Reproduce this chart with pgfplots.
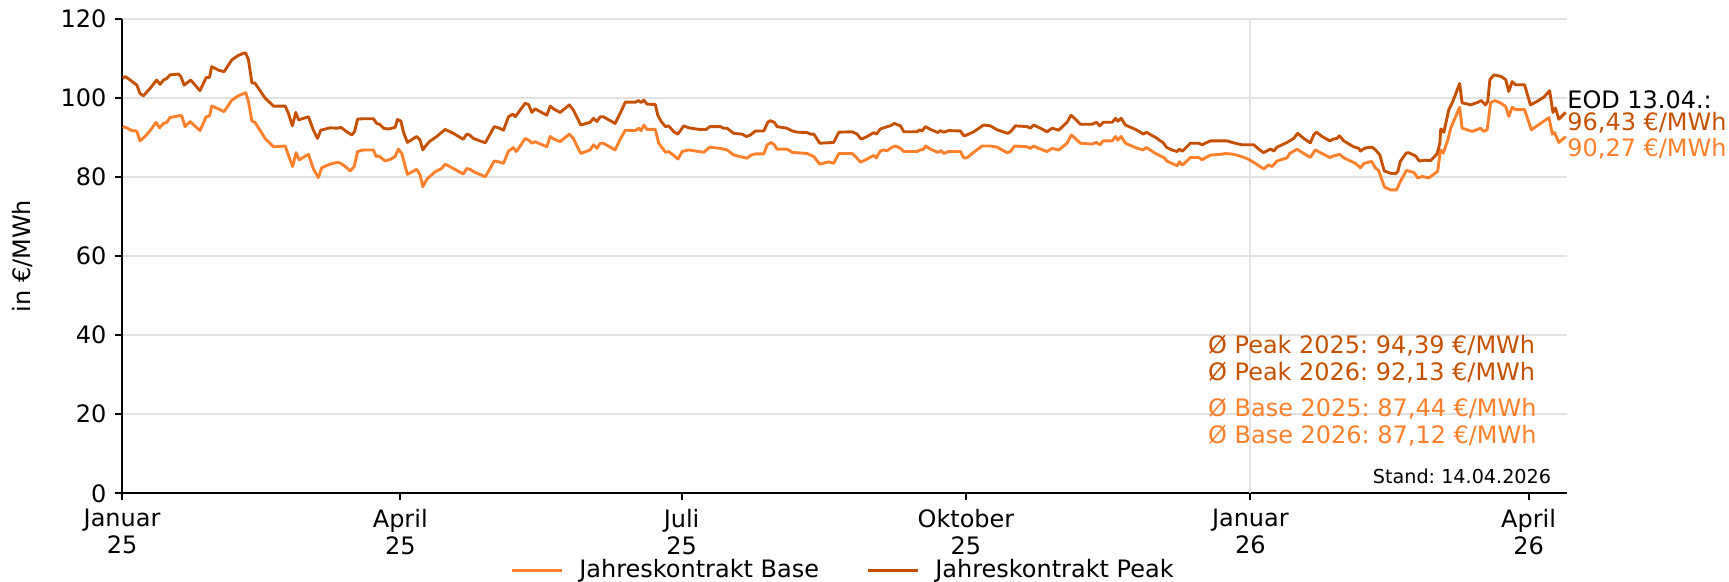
\documentclass[border=0pt]{standalone}
\usepackage{fontspec}
\setmainfont{DejaVu Sans}
\usepackage{pgfplots}
\pgfplotsset{compat=1.18}
\frenchspacing

\definecolor{base}{RGB}{255,127,42}
\definecolor{peak}{RGB}{199,80,0}
\definecolor{gridgray}{RGB}{226,226,226}

\begin{document}
\begin{tikzpicture}
% fixed page size: 1729x582 px at 0.417 pt/px
\path[use as bounding box] (-50.9pt,-37pt) rectangle (670.1pt,205.7pt);
\begin{axis}[
    at={(0,0)}, anchor=south west,
    scale only axis,
    width=602.5pt, height=197.7pt,
    xmin=0, xmax=467.4, ymin=0, ymax=120,
    clip=false,
    axis lines=left,
    axis line style={-, line width=0.9pt},
    tick align=outside,
    major tick length=3pt,
    tick style={line width=0.8pt, black},
    xtick={0,90,181,273,365,455},
    xticklabels={{Januar\\25},{April\\25},{Juli\\25},{Oktober\\25},{Januar\\26},{April\\26}},
    xticklabel style={align=center},
    ytick={0,20,...,120},
    ymajorgrids=true,
    grid style={gridgray, line width=0.8pt},
    extra x ticks={365},
    extra x tick labels={},
    extra x tick style={grid=major, major tick length=0pt},
    tick label style={font=\fontsize{10}{11.5}\selectfont},
    /pgf/number format/assume math mode=true,
    ylabel={in €/MWh},
    ylabel style={at={(axis description cs:-0.0692,0.5)}, anchor=center},
    legend columns=2,
    legend style={draw=none, fill=none, at={(0.5,-0.162)}, anchor=center,
        font=\fontsize{10}{12}\selectfont,
        /tikz/every odd column/.append style={column sep=4.5pt},
        /tikz/every even column/.append style={column sep=17.8pt}},
    legend image code/.code={\draw[#1] (0pt,0pt) -- (21pt,0pt);},
]

% Jahreskontrakt Base (x = Tage ab 01.01.2025)
\addplot[base, line width=1.2pt, line join=round] coordinates {
(0.2,92.8) (1.5,92.5) (3.1,91.8) (4.75,91.7) (5.8,89.2) (7.4,90.3) (9.1,91.8) (11.0,93.9)
(12.1,92.5) (13.4,93.6) (14.5,93.9) (15.5,95.1) (18.8,95.6) (19.3,95.5) (20.4,92.8) (22.0,94.1)
(25.2,91.8) (27.2,95.3) (28.3,95.5) (29.0,98.0) (31.2,97.3) (33.0,96.6) (35.5,99.5) (37.6,100.6)
(40.0,101.4) (40.9,99.1) (42.0,94.2) (43.0,93.9) (46.3,89.8) (49.0,87.7) (52.8,87.9) (53.8,85.6)
(55.2,82.7) (56.3,86.2) (57.3,84.4) (60.3,85.8) (61.9,82.1) (63.5,79.9) (64.6,82.4) (67.3,83.3)
(69.7,83.8) (70.8,83.5) (72.7,82.4) (73.8,81.6) (75.1,82.7) (76.2,86.5) (78.1,86.9) (81.3,86.9)
(82.2,85.2) (83.0,85.4) (84.0,84.8) (85.1,84.1) (86.7,84.5) (88.3,85.2) (89.4,87.1) (90.5,86.0)
(92.3,80.7) (95.3,82.0) (96.4,80.6) (97.3,77.6) (98.6,79.5) (101.3,81.4) (103.4,82.2) (104.5,83.3)
(107.2,82.2) (110.4,80.8) (111.5,82.2) (112.6,82.0) (113.7,81.4) (117.5,80.1) (120.4,84.1) (121.8,83.9)
(123.4,83.5) (125.0,86.6) (126.6,87.5) (127.5,86.5) (128.8,87.9) (130.4,89.8) (131.5,89.4) (132.6,88.6)
(133.6,89.0) (137.4,87.7) (138.5,90.3) (139.6,89.7) (141.7,89.0) (144.7,90.9) (146.0,89.8) (148.4,86.0)
(151.4,86.9) (152.5,88.2) (153.6,87.3) (154.7,88.6) (155.7,88.6) (159.5,86.9) (161.0,89.4) (162.8,91.9)
(166.1,91.8) (167.1,92.4) (167.9,91.8) (168.8,93.2) (169.8,92.1) (172.5,92.1) (173.6,88.6) (175.8,86.3)
(176.8,86.5) (178.5,85.5) (179.8,84.6) (181.2,86.5) (183.3,86.9) (186.6,86.5) (188.2,86.3) (190.1,87.6)
(193.6,87.3) (195.7,86.9) (197.9,85.6) (202.2,84.8) (203.5,85.6) (204.9,85.9) (207.6,85.9) (208.7,88.2)
(210.0,88.8) (211.0,88.2) (211.9,87.1) (215.1,87.1) (216.8,86.3) (221.6,86.0) (223.8,85.2) (225.7,83.3)
(228.6,83.9) (230.2,83.5) (231.9,86.0) (236.2,86.0) (237.3,85.2) (238.9,83.8) (241.0,84.6) (243.2,85.5)
(244.0,84.9) (245.3,86.6) (246.4,86.9) (247.5,86.7) (249.1,87.6) (250.2,87.9) (251.8,87.3) (252.9,86.5)
(257.2,86.5) (258.2,86.9) (259.3,87.1) (259.9,87.9) (261.5,87.1) (263.9,86.3) (265.0,86.7) (265.8,86.0)
(267.4,86.5) (271.2,86.5) (272.3,84.9) (273.3,84.9) (275.5,86.3) (278.2,87.9) (280.9,87.9) (283.1,87.6)
(286.3,86.2) (287.4,86.5) (288.7,87.9) (292.8,87.7) (293.8,87.3) (294.9,87.9) (296.5,87.3) (299.2,86.5)
(300.9,87.3) (303.0,86.9) (305.7,88.6) (307.1,90.7) (308.4,89.8) (310.0,88.6) (313.8,88.4) (315.2,88.8)
(316.3,88.2) (317.4,89.2) (320.3,89.2) (321.4,90.3) (322.1,89.4) (323.2,90.3) (324.6,88.6) (327.8,87.5)
(329.4,87.1) (330.3,86.9) (331.3,87.5) (332.6,86.9) (334.3,86.0) (335.9,85.4) (337.0,85.0) (338.0,84.1)
(339.6,83.5) (341.3,82.9) (342.1,83.9) (342.9,83.1) (343.4,83.3) (345.6,85.0) (348.3,85.0) (349.4,84.4)
(350.4,84.9) (352.1,85.6) (355.3,85.8) (356.9,86.0) (359.6,85.8) (362.3,85.2) (364.5,84.5) (366.6,83.5)
(369.3,82.1) (370.9,83.1) (372.0,82.7) (373.6,84.1) (376.9,84.9) (377.7,86.0) (380.1,87.1) (382.3,86.0)
(384.4,85.0) (386.0,86.9) (388.2,86.0) (390.7,85.0) (392.0,85.4) (393.9,85.8) (395.2,84.9) (397.4,84.1)
(399.0,83.5) (400.6,82.4) (401.8,83.5) (404.2,84.0) (405.5,82.3) (406.5,81.7) (408.4,77.5) (410.3,76.8)
(412.3,76.8) (413.5,78.9) (415.5,81.7) (417.9,81.2) (419.2,79.8) (420.6,80.2) (422.7,79.8) (425.6,81.5)
(426.5,86.9) (427.4,86.1) (428.9,89.5) (429.8,92.4) (432.7,97.7) (433.5,92.4) (435.1,92.0) (436.8,91.6)
(439.5,92.4) (440.5,91.6) (441.6,92.0) (442.7,98.8) (444.0,99.4) (445.9,98.8) (447.6,97.9) (448.6,95.4)
(449.7,97.7) (450.8,97.1) (453.7,97.1) (455.9,92.0) (458.3,93.3) (461.6,95.1) (462.7,90.9) (463.4,91.3)
(464.8,88.8) (467.0,90.27)
};
\addlegendentry{Jahreskontrakt Base}

% Jahreskontrakt Peak
\addplot[peak, line width=1.2pt, line join=round] coordinates {
(0.2,105.0) (1.0,105.5) (2.6,104.6) (4.8,103.3) (5.8,101.2) (6.9,100.6) (9.1,102.5) (11.2,104.6)
(12.3,103.5) (13.4,104.6) (14.5,105.0) (15.5,105.9) (18.2,106.1) (19.0,105.5) (20.1,103.3) (22.2,104.6)
(25.2,101.9) (27.2,105.2) (28.3,105.3) (29.0,108.0) (31.2,107.1) (33.0,106.7) (35.5,109.7) (37.6,110.8)
(39.3,111.4) (40.0,111.4) (40.9,109.7) (42.0,103.9) (43.0,103.8) (46.3,100.0) (49.0,98.0) (52.8,98.0)
(53.8,96.2) (55.1,93.0) (56.2,96.4) (57.1,94.5) (60.3,95.3) (61.9,91.9) (63.2,89.8) (64.3,91.9)
(67.3,92.5) (69.7,92.4) (70.8,92.6) (72.7,91.5) (74.3,90.7) (75.2,91.5) (76.2,94.7) (78.0,94.8)
(81.3,94.8) (82.4,93.6) (83.3,93.4) (84.6,92.4) (86.2,92.2) (88.3,92.6) (89.1,94.6) (90.2,94.2)
(91.0,91.5) (92.3,88.8) (94.3,89.8) (95.3,90.3) (96.4,89.4) (97.3,86.9) (98.0,87.7) (99.4,89.0)
(101.8,90.3) (104.5,92.1) (107.2,91.1) (110.4,89.6) (111.5,90.9) (112.4,90.7) (113.7,89.8) (117.5,88.7)
(120.4,92.8) (121.8,92.5) (123.4,91.9) (125.0,95.3) (126.4,96.0) (127.2,95.3) (128.8,97.0) (130.4,98.7)
(131.5,98.4) (132.6,96.4) (133.6,97.3) (137.4,95.7) (138.5,98.0) (139.6,97.3) (141.7,96.4) (144.7,98.3)
(146.0,97.0) (148.4,93.2) (151.4,93.9) (152.5,94.9) (153.6,94.1) (154.7,95.3) (155.7,95.3) (159.5,93.6)
(161.1,96.1) (162.8,99.0) (166.1,99.0) (167.1,99.4) (167.9,98.9) (168.8,99.5) (169.8,98.5) (172.5,98.4)
(173.3,95.7) (174.4,94.1) (175.8,92.8) (176.8,93.0) (178.5,91.5) (179.8,90.9) (181.7,93.0) (183.3,92.5)
(186.6,92.1) (189.0,92.1) (190.1,92.8) (193.6,92.8) (194.6,92.4) (195.7,92.4) (197.9,91.1) (200.6,90.9)
(202.0,90.3) (203.3,90.7) (204.9,91.7) (207.6,91.7) (208.9,93.9) (209.7,94.3) (211.0,93.9) (211.9,92.8)
(215.1,92.4) (216.8,91.7) (218.4,91.4) (221.6,91.3) (222.7,90.9) (223.8,90.9) (225.7,88.6) (230.2,88.8)
(231.9,91.4) (236.2,91.5) (237.8,90.9) (238.9,89.8) (239.4,89.7) (241.0,90.3) (243.2,91.3) (244.0,90.9)
(245.3,92.2) (246.4,92.5) (247.5,92.8) (248.5,93.0) (249.8,93.6) (251.8,93.0) (252.9,91.5) (257.2,91.5)
(258.0,92.0) (258.8,91.7) (259.9,92.8) (261.5,92.1) (263.9,91.3) (264.7,91.8) (265.8,91.4) (267.4,91.8)
(271.2,91.7) (272.3,90.5) (273.3,90.7) (275.5,91.5) (278.7,93.2) (280.9,93.0) (283.1,92.0) (286.5,91.1)
(287.4,91.5) (289.0,93.0) (292.8,92.8) (293.8,92.4) (294.9,93.2) (297.1,92.4) (299.2,91.5) (300.9,92.4)
(303.0,91.9) (305.7,93.9) (307.0,95.7) (308.4,94.7) (310.0,93.4) (313.8,93.4) (315.2,93.9) (316.3,93.0)
(317.4,93.9) (320.3,93.9) (321.4,94.9) (322.1,94.2) (323.2,94.9) (324.6,93.2) (327.8,92.1) (329.4,91.4)
(330.4,90.9) (331.4,91.4) (332.6,90.8) (334.3,90.1) (335.9,89.2) (336.7,88.8) (338.0,87.5) (339.6,86.9)
(341.3,86.5) (342.1,87.1) (342.9,86.6) (343.4,86.9) (345.6,88.6) (348.3,88.6) (349.4,88.2) (350.4,88.6)
(352.1,89.2) (354.8,89.2) (357.4,89.2) (359.6,88.7) (362.3,88.2) (366.1,88.2) (367.7,87.1) (369.3,86.2)
(370.9,86.9) (371.7,87.1) (372.6,86.6) (373.6,87.6) (376.9,88.8) (379.0,89.8) (380.3,91.1) (382.3,89.8)
(384.4,88.7) (385.5,90.7) (386.4,91.4) (388.2,90.3) (390.7,89.2) (392.0,89.7) (393.0,89.8) (393.8,90.5)
(395.2,89.2) (398.4,87.7) (400.1,87.3) (400.6,86.6) (401.5,87.1) (402.2,87.4) (404.4,87.6) (405.5,86.9)
(406.9,85.6) (408.3,81.6) (410.3,81.0) (411.9,80.9) (412.7,81.4) (413.5,84.0) (415.4,86.1) (416.2,86.2)
(418.4,85.4) (419.7,84.1) (421.3,84.3) (423.3,84.2) (425.4,85.9) (426.3,88.6) (426.6,92.2) (427.6,91.4)
(429.2,97.1) (430.3,98.8) (432.7,103.7) (433.5,98.8) (434.9,98.6) (436.2,98.3) (438.4,98.9) (439.7,99.4)
(441.1,98.3) (441.8,99.2) (442.5,104.7) (443.8,105.9) (446.1,105.5) (447.6,104.7) (448.6,101.7) (449.7,104.2)
(450.8,103.4) (453.7,103.4) (455.6,98.3) (457.8,99.2) (460.0,100.3) (461.8,101.9) (462.9,96.4) (463.7,97.5)
(464.8,94.7) (467.0,96.43)
};
\addlegendentry{Jahreskontrakt Peak}

% Werte am rechten Rand
\node[anchor=base west, inner sep=0pt, text=black] at (axis cs:467.4,97.5) {EOD 13.04.:};
\node[anchor=base west, inner sep=0pt, text=peak] at (axis cs:467.4,91.9) {96,43 €/MWh};
\node[anchor=base west, inner sep=0pt, text=base] at (axis cs:467.4,85.3) {90,27 €/MWh};

% Durchschnitte
\node[anchor=base west, inner sep=0pt, text=peak] at (axis cs:351.2,35.3) {Ø Peak 2025: 94,39 €/MWh};
\node[anchor=base west, inner sep=0pt, text=peak] at (axis cs:351.2,28.56) {Ø Peak 2026: 92,13 €/MWh};
\node[anchor=base west, inner sep=0pt, text=base] at (axis cs:351.2,19.4) {Ø Base 2025: 87,44 €/MWh};
\node[anchor=base west, inner sep=0pt, text=base] at (axis cs:351.2,12.66) {Ø Base 2026: 87,12 €/MWh};

\node[anchor=east, inner sep=0pt, font=\fontsize{8}{9.6}\selectfont] at (rel axis cs:0.9894,0.0364) {Stand: 14.04.2026};
\end{axis}
\end{tikzpicture}
\end{document}
